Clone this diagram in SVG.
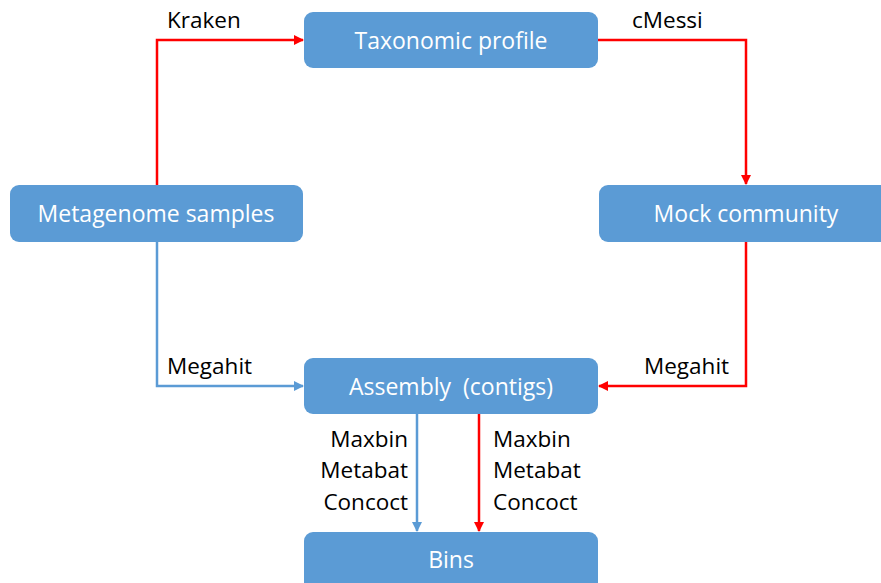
<svg xmlns="http://www.w3.org/2000/svg" width="881" height="583" viewBox="0 0 881 583">
  <style>
    .box { fill: #5b9bd5; }
    .btxt { fill: #ffffff; font-family: "Open Sans", "Noto Sans", sans-serif; font-size: 23px; text-anchor: middle; }
    .lbl { fill: #000000; font-family: "Open Sans", "Noto Sans", sans-serif; font-size: 22.5px; }
    .red { stroke: #ff0000; stroke-width: 2.5; fill: none; marker-end: url(#ahRed); }
    .blue { stroke: #5b9bd5; stroke-width: 2.5; fill: none; marker-end: url(#ahBlue); }
  </style>
  <defs>
    <marker id="ahRed" viewBox="0 0 10 10" refX="9" refY="5" markerWidth="4" markerHeight="4" orient="auto" markerUnits="strokeWidth">
      <path d="M0,0 L10,5 L0,10 Z" fill="#ff0000"/>
    </marker>
    <marker id="ahBlue" viewBox="0 0 10 10" refX="9" refY="5" markerWidth="4" markerHeight="4" orient="auto" markerUnits="strokeWidth">
      <path d="M0,0 L10,5 L0,10 Z" fill="#5b9bd5"/>
    </marker>
  </defs>
  <rect width="881" height="583" fill="#ffffff"/>

  <g id="connectors">
    <path class="red" d="M157,185 V40 H303"/>
    <path class="red" d="M598,40 H746 V184"/>
    <path class="red" d="M746,242 V386 H599"/>
    <path class="blue" d="M157,242 V386 H303"/>
    <path class="blue" d="M417,414 V531"/>
    <path class="red" d="M479,414 V531"/>
    <text class="lbl" x="167" y="28">Kraken</text>
    <text class="lbl" x="632" y="28">cMessi</text>
    <text class="lbl" x="167" y="374">Megahit</text>
    <text class="lbl" x="644" y="374">Megahit</text>
    <text class="lbl" x="408" y="447" text-anchor="end">Maxbin</text>
    <text class="lbl" x="408" y="478" text-anchor="end">Metabat</text>
    <text class="lbl" x="408" y="510" text-anchor="end">Concoct</text>
    <text class="lbl" x="493" y="447">Maxbin</text>
    <text class="lbl" x="493" y="478">Metabat</text>
    <text class="lbl" x="493" y="510">Concoct</text>
  </g>

  <g id="taxonomic-profile">
    <rect class="box" x="304" y="12" width="294" height="56" rx="9"/>
    <text class="btxt" x="451" y="49">Taxonomic profile</text>
  </g>
  <g id="metagenome-samples">
    <rect class="box" x="10" y="185" width="293" height="57" rx="9"/>
    <text class="btxt" x="156" y="222">Metagenome samples</text>
  </g>
  <g id="mock-community">
    <rect class="box" x="599" y="185" width="300" height="57" rx="9"/>
    <text class="btxt" x="746" y="222">Mock community</text>
  </g>
  <g id="assembly">
    <rect class="box" x="304" y="358" width="294" height="56" rx="9"/>
    <text class="btxt" x="451" y="395" xml:space="preserve">Assembly  (contigs)</text>
  </g>
  <g id="bins">
    <rect class="box" x="304" y="532" width="294" height="70" rx="9"/>
    <text class="btxt" x="451" y="568">Bins</text>
  </g>
</svg>
